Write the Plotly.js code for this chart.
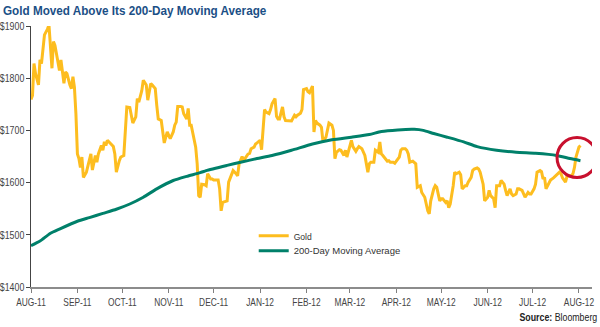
<!DOCTYPE html>
<html>
<head>
<meta charset="utf-8">
<script src="https://cdn.plot.ly/plotly-3.0.1.min.js"></script>
<style>
  html, body { margin: 0; padding: 0; background: #fff; }
  #chart { width: 600px; height: 327px; }
</style>
</head>
<body>
<div id="chart"></div>
<script>
// ---- Data ----
const goldDates = [
  '2011-08-01','2011-08-02','2011-08-03','2011-08-04','2011-08-06','2011-08-07','2011-08-08','2011-08-10','2011-08-12','2011-08-13',
  '2011-08-15','2011-08-16','2011-08-17','2011-08-19','2011-08-20','2011-08-21','2011-08-22','2011-08-23','2011-08-24','2011-08-25',
  '2011-08-27','2011-08-28','2011-08-29','2011-08-30','2011-08-31','2011-09-01','2011-09-02','2011-09-03','2011-09-04','2011-09-05',
  '2011-09-07','2011-09-09','2011-09-10','2011-09-11','2011-09-12','2011-09-13','2011-09-14','2011-09-15','2011-09-17','2011-09-18',
  '2011-09-19','2011-09-20','2011-09-21','2011-09-23','2011-09-25','2011-09-26','2011-09-27','2011-09-29','2011-09-30','2011-10-02',
  '2011-10-03','2011-10-04','2011-10-06','2011-10-07','2011-10-08','2011-10-10','2011-10-11','2011-10-12','2011-10-14','2011-10-15',
  '2011-10-17','2011-10-18','2011-10-20','2011-10-21','2011-10-23','2011-10-24','2011-10-25','2011-10-27','2011-10-28','2011-10-29',
  '2011-10-31','2011-11-01','2011-11-02','2011-11-04','2011-11-05','2011-11-06','2011-11-07','2011-11-09','2011-11-10','2011-11-11',
  '2011-11-13','2011-11-14','2011-11-15','2011-11-16','2011-11-17','2011-11-19','2011-11-20','2011-11-21','2011-11-22','2011-11-23',
  '2011-11-25','2011-11-26','2011-11-27','2011-11-29','2011-11-30','2011-12-01','2011-12-03','2011-12-04','2011-12-05','2011-12-06',
  '2011-12-07','2011-12-09','2011-12-10','2011-12-11','2011-12-13','2011-12-14','2011-12-16','2011-12-17','2011-12-18','2011-12-20',
  '2011-12-21','2011-12-22','2011-12-24','2011-12-25','2011-12-26','2011-12-28','2011-12-29','2011-12-30','2012-01-01','2012-01-02',
  '2012-01-03','2012-01-04','2012-01-05','2012-01-07','2012-01-08','2012-01-09','2012-01-11','2012-01-12','2012-01-13','2012-01-14',
  '2012-01-16','2012-01-17','2012-01-18','2012-01-20','2012-01-21','2012-01-22','2012-01-24','2012-01-25','2012-01-26','2012-01-28',
  '2012-01-29','2012-01-30','2012-02-01','2012-02-02','2012-02-03','2012-02-05','2012-02-06','2012-02-07','2012-02-08','2012-02-10',
  '2012-02-11','2012-02-12','2012-02-14','2012-02-15','2012-02-16','2012-02-18','2012-02-19','2012-02-20','2012-02-21','2012-02-23',
  '2012-02-24','2012-02-26','2012-02-27','2012-02-28','2012-03-01','2012-03-02','2012-03-03','2012-03-05','2012-03-06','2012-03-07',
  '2012-03-09','2012-03-10','2012-03-11','2012-03-13','2012-03-14','2012-03-15','2012-03-17','2012-03-18','2012-03-20','2012-03-21',
  '2012-03-22','2012-03-23','2012-03-24','2012-03-26','2012-03-27','2012-03-28','2012-03-30','2012-03-31','2012-04-01','2012-04-03',
  '2012-04-04','2012-04-05','2012-04-07','2012-04-08','2012-04-09','2012-04-10','2012-04-12','2012-04-13','2012-04-14','2012-04-15',
  '2012-04-17','2012-04-18','2012-04-20','2012-04-21','2012-04-22','2012-04-23','2012-04-24','2012-04-26','2012-04-27','2012-04-28',
  '2012-04-30','2012-05-01','2012-05-02','2012-05-04','2012-05-05','2012-05-06','2012-05-07','2012-05-09','2012-05-10','2012-05-11',
  '2012-05-13','2012-05-14','2012-05-15','2012-05-17','2012-05-18','2012-05-19','2012-05-21','2012-05-22','2012-05-23','2012-05-25',
  '2012-05-26','2012-05-27','2012-05-29','2012-05-30','2012-06-01','2012-06-02','2012-06-03','2012-06-05','2012-06-06','2012-06-07',
  '2012-06-09','2012-06-10','2012-06-12','2012-06-13','2012-06-14','2012-06-16','2012-06-17','2012-06-18','2012-06-20','2012-06-21',
  '2012-06-22','2012-06-24','2012-06-25','2012-06-26','2012-06-28','2012-06-29','2012-06-30','2012-07-02','2012-07-03','2012-07-04',
  '2012-07-06','2012-07-07','2012-07-08','2012-07-09','2012-07-10','2012-07-12','2012-07-13','2012-07-15','2012-07-16','2012-07-17',
  '2012-07-19','2012-07-20','2012-07-21','2012-07-23','2012-07-24','2012-07-25','2012-07-27','2012-07-28','2012-07-29','2012-07-30',
  '2012-08-01','2012-08-02'
];
const goldValues = [
  1759,1767,1828,1809,1787,1835,1828,1883,1894,1902,
  1819,1870,1863,1835,1815,1835,1815,1790,1812,1809,
  1787,1780,1803,1783,1732,1655,1646,1629,1649,1610,
  1620,1642,1655,1624,1642,1652,1639,1655,1671,1662,
  1678,1671,1681,1674,1669,1655,1620,1642,1649,1652,
  1706,1745,1744,1726,1714,1726,1761,1754,1776,1796,
  1787,1758,1790,1787,1780,1748,1722,1719,1700,1676,
  1697,1690,1684,1697,1710,1716,1746,1746,1745,1732,
  1722,1742,1710,1710,1694,1668,1636,1575,1572,1597,
  1596,1594,1617,1607,1607,1605,1605,1605,1588,1546,
  1562,1565,1565,1601,1617,1623,1617,1613,1636,1650,
  1642,1646,1655,1656,1665,1668,1674,1676,1681,1663,
  1710,1740,1735,1732,1740,1751,1761,1727,1722,1722,
  1745,1726,1719,1719,1719,1718,1729,1726,1729,1733,
  1740,1778,1780,1774,1772,1785,1697,1719,1714,1710,
  1706,1679,1687,1700,1714,1710,1700,1646,1658,1663,
  1662,1652,1662,1649,1668,1681,1669,1660,1665,1669,
  1665,1658,1652,1620,1636,1639,1639,1662,1658,1678,
  1655,1652,1649,1641,1642,1639,1639,1637,1641,1649,
  1662,1665,1665,1662,1655,1639,1641,1639,1636,1591,
  1594,1581,1572,1559,1546,1540,1565,1588,1594,1591,
  1565,1569,1569,1562,1565,1552,1559,1594,1620,1617,
  1620,1615,1588,1594,1594,1601,1610,1623,1626,1628,
  1626,1620,1597,1565,1572,1585,1575,1569,1552,1594,
  1594,1604,1597,1585,1575,1588,1578,1575,1578,1588,
  1588,1585,1578,1572,1581,1578,1578,1588,1597,1620,
  1623,1621,1607,1610,1588,1601,1605,1609,1612,1613,
  1620,1617,1609,1601,1612,1613,1613,1617,1629,1649,
  1668,1671
];
const maDates = [
  '2011-08-01','2011-08-07','2011-08-14','2011-08-20','2011-09-01','2011-09-09','2011-09-18','2011-09-27','2011-10-06','2011-10-15',
  '2011-10-24','2011-11-04','2011-11-13','2011-11-22','2011-11-26','2011-12-10','2011-12-19','2011-12-30','2012-01-09','2012-01-22',
  '2012-02-05','2012-02-18','2012-03-02','2012-03-14','2012-03-22','2012-04-02','2012-04-13','2012-04-19','2012-04-26','2012-05-05',
  '2012-05-16','2012-05-25','2012-06-07','2012-06-20','2012-07-03','2012-07-17','2012-07-26','2012-08-02'
];
const maValues = [
  1479,1488,1503,1511,1526,1533,1541,1549,1559,1572,
  1588,1604,1612,1619,1623,1633,1639,1646,1652,1662,
  1674,1682,1687,1692,1698,1701,1702,1700,1694,1687,
  1678,1669,1662,1658,1656,1652,1646,1642
];
const tickDates = ['2011-08-01','2011-09-01','2011-10-01','2011-11-01','2011-12-01','2012-01-01','2012-02-01','2012-03-01','2012-04-01','2012-05-01','2012-06-01','2012-07-01','2012-08-01'];
const tickLabels = ['AUG-11','SEP-11','OCT-11','NOV-11','DEC-11','JAN-12','FEB-12','MAR-12','APR-12','MAY-12','JUN-12','JUL-12','AUG-12'];
const yTicks = [1400, 1500, 1600, 1700, 1800, 1900];
const yTickLabels = ['$1400', '$1500', '$1600', '$1700', '$1800', '$1900'];
const seriesNames = ['Gold', '200-Day Moving Average'];
const highlightDate = '2012-07-30 17:00';
const highlightValue = 1648;

const FONT = '"Liberation Sans", Arial, sans-serif';

const traces = [
  {
    x: goldDates, y: goldValues, name: seriesNames[0], type: 'scatter', mode: 'lines',
    line: { color: '#FDBD1F', width: 3, shape: 'linear' }, legend: 'legend'
  },
  {
    x: maDates, y: maValues, name: seriesNames[1], type: 'scatter', mode: 'lines',
    line: { color: '#00806A', width: 3, shape: 'spline', smoothing: 0.6 }, legend: 'legend2'
  }
];

const legendCommon = {
  xanchor: 'left', yanchor: 'middle',
  bgcolor: 'rgba(0,0,0,0)', borderwidth: 0,
  font: { family: FONT, size: 9.5, color: '#333333' },
  tracegroupgap: 0, itemwidth: 30
};

const layout = {
  width: 600, height: 327,
  margin: { l: 31, r: 8, t: 26, b: 40, pad: 0 },
  paper_bgcolor: '#ffffff', plot_bgcolor: '#ffffff',
  font: { family: FONT, size: 11, color: '#333333' },
  title: {
    text: '<b>Gold Moved Above Its 200-Day Moving Average</b>',
    font: { family: FONT, size: 13, color: '#1B4F86' },
    x: 0.005, xanchor: 'left', xref: 'container', y: 0.968, yanchor: 'middle', yref: 'container'
  },
  showlegend: true,
  legend: Object.assign({ x: 0.397, y: 0.196 }, legendCommon),
  legend2: Object.assign({ x: 0.397, y: 0.139 }, legendCommon),
  xaxis: {
    type: 'date',
    range: ['2011-08-01', '2012-08-09 17:00'],
    tickmode: 'array', tickvals: tickDates, ticktext: tickLabels,
    ticks: 'outside', ticklen: 4, tickwidth: 1, tickcolor: '#808080',
    showline: true, linecolor: '#8c8c8c', linewidth: 2,
    showgrid: false, zeroline: false,
    tickfont: { family: FONT, size: 11, color: '#444444' }
  },
  yaxis: {
    range: [1400, 1900],
    tickmode: 'array', tickvals: yTicks, ticktext: yTickLabels,
    ticks: 'outside', ticklen: 4, tickwidth: 1, tickcolor: '#444444',
    showline: true, linecolor: '#444444', linewidth: 1.5,
    showgrid: false, zeroline: false, ticklabelstandoff: -1,
    tickfont: { family: FONT, size: 11, color: '#444444' }
  },
  shapes: [
    {
      type: 'circle', xref: 'x', yref: 'y',
      xsizemode: 'pixel', ysizemode: 'pixel',
      xanchor: highlightDate, yanchor: highlightValue,
      x0: -20, x1: 20, y0: -20, y1: 20,
      line: { color: '#C8102E', width: 3 }, fillcolor: 'rgba(0,0,0,0)'
    }
  ],
  annotations: [
    {
      text: '<b>Source:</b> Bloomberg', xref: 'paper', yref: 'paper', align: 'right',
      x: 1.012, y: -0.115, xanchor: 'right', yanchor: 'middle', showarrow: false,
      font: { family: FONT, size: 11, color: '#222222' }
    }
  ]
};

// Emulate the reference's condensed typeface by narrowing the real SVG text.
function condense(root, selector, factor) {
  root.querySelectorAll(selector).forEach(function (t) {
    if (t.getAttribute('data-condensed')) return;
    const w = t.getComputedTextLength();
    if (w > 0) {
      t.setAttribute('textLength', (w * factor).toFixed(2));
      t.setAttribute('lengthAdjust', 'spacingAndGlyphs');
      t.setAttribute('data-condensed', '1');
    }
  });
}
function condenseAll(gd) {
  condense(gd, '.gtitle', 0.9);
  condense(gd, '.ytick text', 0.8);
  condense(gd, '.xtick text', 0.76);
  condense(gd, 'text.legendtext', 0.9);
  condense(gd, '.annotation-text', 0.8);
}

Plotly.newPlot('chart', traces, layout, { displayModeBar: false, staticPlot: true }).then(function (gd) {
  condenseAll(gd);
  setTimeout(function () { condenseAll(gd); }, 30);
  setTimeout(function () { condenseAll(gd); }, 200);
});
</script>
</body>
</html>
